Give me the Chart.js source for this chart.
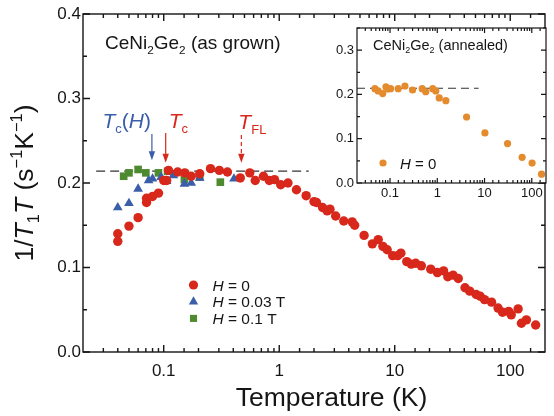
<!DOCTYPE html>
<html>
<head>
<meta charset="utf-8">
<script src="https://cdn.jsdelivr.net/npm/chart.js@4.4.1/dist/chart.umd.min.js"></script>
<style>
  body { margin: 0; background: #fff; }
  #wrap { position: relative; width: 554px; height: 416px; }
  #wrap canvas { position: absolute; left: 0; top: 0; }
</style>
</head>
<body>
<div id="wrap">
  <canvas id="main" width="554" height="416"></canvas>
  <canvas id="inset" width="554" height="416"></canvas>
</div>
<script>
// ---- data ----
// as grown, H = 0
const tempH0 = [0.040, 0.040, 0.050, 0.060, 0.071, 0.071, 0.080, 0.090, 0.100, 0.106, 0.110, 0.132, 0.152, 0.173,
  0.205, 0.254, 0.303, 0.356, 0.46, 0.556, 0.62, 0.73, 0.82, 0.91, 1.03, 1.19, 1.41, 1.71, 2.0, 2.1, 2.37, 2.6, 2.75,
  3.08, 3.62, 4.28, 4.5, 5.43, 6.4, 7.2, 7.9, 8.6, 9.6, 10.6, 11.3, 12.7, 13.9, 15.2, 17.0, 20.5, 23.4, 26.5, 28.8,
  32, 35.5, 40.6, 44.6, 50.7, 55, 59.9, 68.9, 78.5, 85.7, 97, 102, 117, 125, 138, 166];
const rateH0 = [0.131, 0.140, 0.149, 0.159, 0.177, 0.182, 0.184, 0.188, 0.203, 0.203, 0.215, 0.213, 0.212, 0.208,
  0.211, 0.217, 0.215, 0.213, 0.206, 0.212, 0.203, 0.208, 0.203, 0.204, 0.198, 0.200, 0.192, 0.185, 0.178, 0.177, 0.171, 0.167, 0.169,
  0.161, 0.155, 0.154, 0.150, 0.138, 0.128, 0.133, 0.125, 0.121, 0.114, 0.114, 0.117, 0.107, 0.104, 0.105, 0.102, 0.098, 0.094, 0.096, 0.089,
  0.091, 0.087, 0.076, 0.072, 0.068, 0.066, 0.062, 0.059, 0.052, 0.047, 0.048, 0.044, 0.051, 0.034, 0.038, 0.032];
// H = 0.03 T
const tempH003 = [0.040, 0.050, 0.060, 0.074, 0.080, 0.095, 0.106, 0.121, 0.151, 0.173, 0.205, 0.406];
const rateH003 = [0.171, 0.176, 0.193, 0.203, 0.205, 0.207, 0.202, 0.209, 0.199, 0.200, 0.206, 0.205];
// H = 0.1 T
const tempH01 = [0.045, 0.050, 0.060, 0.070, 0.090, 0.108, 0.151, 0.205, 0.309];
const rateH01 = [0.208, 0.212, 0.216, 0.212, 0.212, 0.214, 0.204, 0.207, 0.201];
// constant guide line
const plateauT = [0.026, 1.8];
const plateauRate = [0.214, 0.214];
// arrows: Tc(H), Tc, T_FL
const arrowT = [0.079, 0.104, 0.47];

// annealed (inset), H = 0
const tempAnn = [0.048, 0.056, 0.070, 0.082, 0.090, 0.103, 0.149, 0.207, 0.30, 0.48, 0.57, 0.80, 0.93, 1.10, 1.52,
  4.17, 10.2, 30.7, 62.5, 101.6, 161];
const rateAnn = [0.213, 0.208, 0.202, 0.217, 0.212, 0.213, 0.213, 0.219, 0.210, 0.213, 0.206, 0.213, 0.208, 0.192, 0.186,
  0.149, 0.113, 0.089, 0.058, 0.045, 0.020];
const plateauAnnT = [0.02, 7.5];
const plateauAnnRate = [0.214, 0.214];

const FONT = '"Liberation Sans", Arial, Helvetica, sans-serif';
const RED = '#d8271b';
const BLUE = '#3a5ea9';
const GREEN = '#4e8a2f';
const ORANGE = '#e48b2d';
const INK = '#151515';

function pts(xs, ys) {
  return xs.map((x, i) => ({ x, y: ys[i] }));
}

function isDecade(v) {
  const l = Math.log10(v);
  return Math.abs(l - Math.round(l)) < 1e-6;
}

function decadeLabel(v) {
  if (!isDecade(v)) return '';
  const e = Math.round(Math.log10(v));
  return e < 0 ? v.toFixed(-e) : String(Math.round(v));
}

// parts: [text, kind] with kind 'n' | 'i' | 'sub' | 'sup'
function drawRich(ctx, parts, x, y, size, align, color) {
  const items = parts.map(([t, k]) => {
    const small = k === 'sub' || k === 'sup';
    const s = small ? size * 0.62 : size;
    const font = (k === 'i' ? 'italic ' : '') + s + 'px ' + FONT;
    ctx.font = font;
    const dy = k === 'sub' ? size * 0.24 : k === 'sup' ? -size * 0.4 : 0;
    return { t, font, dy, w: ctx.measureText(t).width };
  });
  const total = items.reduce((a, it) => a + it.w, 0);
  let cx = align === 'center' ? x - total / 2 : align === 'right' ? x - total : x;
  ctx.fillStyle = color;
  ctx.textAlign = 'left';
  ctx.textBaseline = 'alphabetic';
  items.forEach((it) => {
    ctx.font = it.font;
    ctx.fillText(it.t, cx, y + it.dy);
    cx += it.w;
  });
}

function drawMarker(ctx, style, r, color, x, y) {
  ctx.fillStyle = color;
  ctx.strokeStyle = color;
  Chart.helpers.drawPoint(ctx, { pointStyle: style, radius: r, rotation: 0, borderWidth: 0 }, x, y);
}

// frame on all four sides with inward ticks
const frameTicks = {
  id: 'frameTicks',
  beforeDatasetsDraw(chart, args, o) {
    if (!o.fill) return;
    const { ctx, chartArea: a } = chart;
    ctx.save();
    ctx.fillStyle = '#fff';
    ctx.fillRect(a.left, a.top, a.right - a.left, a.bottom - a.top);
    ctx.restore();
  },
  afterDatasetsDraw(chart, args, o) {
    const { ctx, chartArea: a, scales: { x, y } } = chart;
    ctx.save();
    ctx.strokeStyle = INK;
    ctx.lineWidth = o.lw;
    ctx.strokeRect(a.left, a.top, a.right - a.left, a.bottom - a.top);
    ctx.beginPath();
    x.ticks.forEach((t) => {
      const p = x.getPixelForValue(t.value);
      if (p < a.left + 1 || p > a.right - 1) return;
      const L = isDecade(t.value) ? o.major : o.minor;
      ctx.moveTo(p, a.bottom); ctx.lineTo(p, a.bottom - L);
      ctx.moveTo(p, a.top); ctx.lineTo(p, a.top + L);
    });
    y.ticks.forEach((t) => {
      const p = y.getPixelForValue(t.value);
      const major = Math.abs(t.value * 10 - Math.round(t.value * 10)) < 1e-6;
      const L = major ? o.major : o.minor;
      ctx.moveTo(a.left, p); ctx.lineTo(a.left + L, p);
      ctx.moveTo(a.right, p); ctx.lineTo(a.right - L, p);
    });
    ctx.stroke();
    ctx.restore();
  }
};

function arrow(ctx, x, yTop, yTip, color, dashed) {
  ctx.save();
  ctx.strokeStyle = color;
  ctx.fillStyle = color;
  ctx.lineWidth = 1.2;
  if (dashed) ctx.setLineDash([4, 3]);
  ctx.beginPath();
  ctx.moveTo(x, yTop);
  ctx.lineTo(x, yTip - 6);
  ctx.stroke();
  ctx.setLineDash([]);
  ctx.beginPath();
  ctx.moveTo(x - 3.2, yTip - 9);
  ctx.lineTo(x + 3.2, yTip - 9);
  ctx.lineTo(x, yTip);
  ctx.closePath();
  ctx.fill();
  ctx.restore();
}

const mainNotes = {
  id: 'mainNotes',
  afterDraw(chart) {
    const { ctx, scales: { x, y } } = chart;
    ctx.save();
    drawRich(ctx, [['CeNi', 'n'], ['2', 'sub'], ['Ge', 'n'], ['2', 'sub'], [' (as grown)', 'n']], 105, 49, 19, 'left', INK);

    const top = y.getPixelForValue(0.258);
    const xs = arrowT.map((t) => x.getPixelForValue(t));
    arrow(ctx, xs[0], top, y.getPixelForValue(0.227), BLUE, false);
    arrow(ctx, xs[1], top - 1, y.getPixelForValue(0.224), RED, false);
    arrow(ctx, xs[2], top + 1, y.getPixelForValue(0.224), RED, true);
    drawRich(ctx, [['T', 'i'], ['c', 'sub'], ['(', 'n'], ['H', 'i'], [')', 'n']], xs[0] - 1, 128, 21, 'right', BLUE);
    drawRich(ctx, [['T', 'i'], ['c', 'sub']], xs[1] + 3, 128, 21, 'left', RED);
    drawRich(ctx, [['T', 'i'], ['FL', 'sub']], xs[2] - 3, 129, 21, 'left', RED);

    // legend
    const rows = [
      ['circle', 4.6, RED, '0'],
      ['triangle', 5.4, BLUE, '0.03 T'],
      ['rect', 5.0, GREEN, '0.1 T']
    ];
    rows.forEach((r, i) => {
      const cy = 285 + i * 16.7;
      drawMarker(ctx, r[0], r[1], r[2], 193.5, cy);
      drawRich(ctx, [['H', 'i'], [' = ' + r[3], 'n']], 212.5, cy + 5.5, 15.5, 'left', INK);
    });

    // axis titles
    drawRich(ctx, [['Temperature (K)', 'n']], 331.5, 406, 26.5, 'center', INK);
    ctx.save();
    ctx.translate(33, 183);
    ctx.rotate(-Math.PI / 2);
    drawRich(ctx, [['1/', 'n'], ['T', 'i'], ['1', 'sub'], ['T', 'i'], [' (s', 'n'], ['\u22121', 'sup'], ['K', 'n'], ['\u22121', 'sup'], [')', 'n']], 0, 0, 26.5, 'center', INK);
    ctx.restore();
    ctx.restore();
  }
};

const insetNotes = {
  id: 'insetNotes',
  afterDraw(chart) {
    const { ctx } = chart;
    ctx.save();
    drawRich(ctx, [['CeNi', 'n'], ['2', 'sub'], ['Ge', 'n'], ['2', 'sub'], [' (annealed)', 'n']], 373, 49.5, 14.5, 'left', INK);
    drawMarker(ctx, 'circle', 3.6, ORANGE, 383, 163);
    drawRich(ctx, [['H', 'i'], [' = 0', 'n']], 400, 168.5, 15, 'left', INK);
    ctx.restore();
  }
};

Chart.defaults.font.family = FONT;
Chart.defaults.color = INK;

new Chart(document.getElementById('main'), {
  type: 'scatter',
  data: {
    datasets: [
      { label: 'H = 0', data: pts(tempH0, rateH0), pointStyle: 'circle', pointRadius: 4.7,
        backgroundColor: RED, borderWidth: 0 },
      { label: 'H = 0.03 T', data: pts(tempH003, rateH003), pointStyle: 'triangle', pointRadius: 5.6,
        backgroundColor: BLUE, borderWidth: 0 },
      { label: 'H = 0.1 T', data: pts(tempH01, rateH01), pointStyle: 'rect', pointRadius: 5.4,
        backgroundColor: GREEN, borderWidth: 0 },
      { type: 'line', label: 'plateau', data: pts(plateauT, plateauRate), borderColor: '#333', borderWidth: 1.3,
        borderDash: [9, 5], pointRadius: 0, fill: false }
    ]
  },
  options: {
    responsive: false,
    animation: false,
    devicePixelRatio: 1,
    layout: { padding: { top: 14, right: 1, left: 0, bottom: 0 } },
    plugins: {
      legend: { display: false },
      tooltip: { enabled: false },
      frameTicks: { major: 7, minor: 4, lw: 1.4 }
    },
    scales: {
      x: {
        type: 'logarithmic', min: 0.02, max: 200,
        grid: { display: false, drawTicks: false },
        border: { display: false },
        ticks: { callback: (v) => decadeLabel(v), font: { size: 17 }, color: INK, padding: 9,
          autoSkip: false, maxRotation: 0 },
        afterFit: (s) => { s.height = 64; }
      },
      y: {
        min: 0, max: 0.4,
        grid: { display: false, drawTicks: false },
        border: { display: false },
        ticks: { stepSize: 0.05, font: { size: 17 }, color: INK, padding: 2,
          callback: (v) => (Math.abs(v * 10 - Math.round(v * 10)) < 1e-6 ? v.toFixed(1) : '') },
        afterFit: (s) => { s.width = 83; }
      }
    }
  },
  plugins: [frameTicks, mainNotes]
});

new Chart(document.getElementById('inset'), {
  type: 'scatter',
  data: {
    datasets: [
      { label: 'annealed H = 0', data: pts(tempAnn, rateAnn), pointStyle: 'circle', pointRadius: 3.6,
        backgroundColor: ORANGE, borderWidth: 0 },
      { type: 'line', label: 'plateau', data: pts(plateauAnnT, plateauAnnRate), borderColor: '#333', borderWidth: 1.1,
        borderDash: [8, 5], pointRadius: 0, fill: false }
    ]
  },
  options: {
    responsive: false,
    animation: false,
    devicePixelRatio: 1,
    layout: { padding: { top: 28, right: 8, left: 327, bottom: 213 } },
    plugins: {
      legend: { display: false },
      tooltip: { enabled: false },
      frameTicks: { major: 5, minor: 3, lw: 1.2, fill: true }
    },
    scales: {
      x: {
        type: 'logarithmic', min: 0.02, max: 200,
        grid: { display: false, drawTicks: false },
        border: { display: false },
        ticks: { callback: (v) => decadeLabel(v), font: { size: 13 }, color: INK, padding: 3,
          autoSkip: false, maxRotation: 0 },
        afterFit: (s) => { s.height = 20; }
      },
      y: {
        min: 0, max: 0.35,
        grid: { display: false, drawTicks: false },
        border: { display: false },
        ticks: { stepSize: 0.05, font: { size: 13 }, color: INK, padding: 3,
          callback: (v) => (Math.abs(v * 10 - Math.round(v * 10)) < 1e-6 ? v.toFixed(1) : '') },
        afterFit: (s) => { s.width = 30; }
      }
    }
  },
  plugins: [frameTicks, insetNotes]
});
</script>
</body>
</html>
